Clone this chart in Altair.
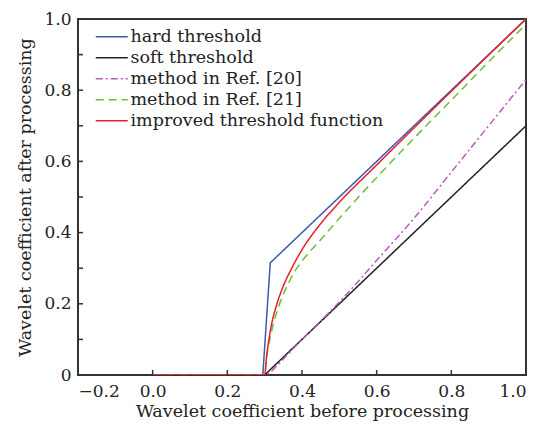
import altair as alt
import pandas as pd

# Threshold curves: input coefficient -> output coefficient
hard_x = [0.0, 0.295, 0.315, 1.0]
hard_y = [0.0, 0.0, 0.315, 1.0]

soft_x = [0.0, 0.3, 1.0]
soft_y = [0.0, 0.0, 0.7]

ref20_x = [0.0, 0.3, 0.31, 0.32, 0.34, 0.36, 0.4, 0.45, 0.5, 0.55, 0.6, 0.7, 0.8, 0.9, 1.0]
ref20_y = [0.0, 0.0, 0.004, 0.012, 0.034, 0.056, 0.1, 0.152, 0.205, 0.262, 0.322, 0.44, 0.57, 0.70, 0.83]

ref21_x = [0.0, 0.3, 0.305, 0.31, 0.32, 0.34, 0.36, 0.38, 0.4, 0.45, 0.5, 0.6, 0.7, 0.8, 0.9, 1.0]
ref21_y = [0.0, 0.0, 0.05, 0.08, 0.13, 0.2, 0.25, 0.29, 0.32, 0.38, 0.44, 0.555, 0.665, 0.772, 0.88, 0.985]

impr_x = [0.0, 0.3, 0.305, 0.31, 0.32, 0.33, 0.35, 0.37, 0.4, 0.45, 0.5, 0.6, 0.7, 0.8, 0.9, 1.0]
impr_y = [0.0, 0.0, 0.05, 0.09, 0.15, 0.19, 0.25, 0.295, 0.352, 0.425, 0.485, 0.59, 0.694, 0.797, 0.899, 1.0]

names = ["hard threshold", "soft threshold", "method in Ref. [20]",
         "method in Ref. [21]", "improved threshold function"]
colors = ["#3b5bab", "#222222", "#c058c0", "#6cbf3a", "#e8202a"]
dashes = [[1, 0], [1, 0], [7, 3, 2, 3], [8, 5], [1, 0]]

x_ticks = [-0.2, 0.0, 0.2, 0.4, 0.6, 0.8, 1.0]
y_ticks = [0.0, 0.1, 0.2, 0.3, 0.4, 0.5, 0.6, 0.7, 0.8, 0.9, 1.0]

series = [(hard_x, hard_y), (soft_x, soft_y), (ref20_x, ref20_y),
          (ref21_x, ref21_y), (impr_x, impr_y)]
rows = []
for k, (name, (xs, ys)) in enumerate(zip(names, series)):
    for i, (xv, yv) in enumerate(zip(xs, ys)):
        rows.append({"method": name, "order": k, "i": i, "x": xv, "y": yv,
                     "piecewise": k < 2})
df = pd.DataFrame(rows)

FONT = "DejaVu Serif"
FS = 17
TFS = 17.5
xscale = alt.Scale(domain=[-0.2, 1.0], nice=False, zero=False)
yscale = alt.Scale(domain=[0.0, 1.0], nice=False)

# long horizontal stroke as legend symbol (unit grid, scaled by sqrt(size)/2)
SYMBOL = "M-3,0H3"

enc = dict(
    x=alt.X("x:Q", scale=xscale,
            axis=alt.Axis(values=x_ticks, format=".1f", title="Wavelet coefficient before processing",
                          domain=False, ticks=False, grid=False, labelPadding=8, titlePadding=3,
                          labelOverlap=False)),
    y=alt.Y("y:Q", scale=yscale,
            axis=alt.Axis(values=y_ticks, labelExpr="datum.value == 0 ? '0' : format(datum.value, '.1f')",
                          title="Wavelet coefficient after processing",
                          domain=False, ticks=False, grid=False, labelPadding=7, titlePadding=9,
                          labelOverlap=False)),
    color=alt.Color("method:N", sort=names,
                    scale=alt.Scale(domain=names, range=colors),
                    legend=alt.Legend(title=None, orient="none", legendX=25, legendY=9,
                                      symbolType=SYMBOL, symbolSize=114, symbolStrokeWidth=1.5,
                                      symbolFillColor="transparent",
                                      labelFont=FONT, labelFontSize=TFS, labelColor="#222",
                                      labelLimit=0, labelOffset=10, rowPadding=2, padding=0)),
    strokeDash=alt.StrokeDash("method:N", sort=names,
                              scale=alt.Scale(domain=names, range=dashes), legend=None),
    order="i:Q",
)

# piecewise-linear rules (hard / soft) and smooth curves (the other three)
linear_lines = alt.Chart(df).transform_filter("datum.piecewise").mark_line(
    strokeWidth=1.5, clip=True).encode(**enc)
smooth_lines = alt.Chart(df).transform_filter("!datum.piecewise").mark_line(
    strokeWidth=1.5, clip=True, interpolate="monotone").encode(**enc)

# inward tick marks along the bottom and left edges
xt = pd.DataFrame({"x": x_ticks, "y0": [0.0] * len(x_ticks), "y1": [0.014] * len(x_ticks)})
yt = pd.DataFrame({"y": y_ticks, "x0": [-0.2] * len(y_ticks), "x1": [-0.2 + 0.0134] * len(y_ticks)})
xtick_marks = alt.Chart(xt).mark_rule(color="#333", strokeWidth=1.5).encode(
    x=alt.X("x:Q", scale=xscale), y=alt.Y("y0:Q", scale=yscale), y2="y1:Q")
ytick_marks = alt.Chart(yt).mark_rule(color="#333", strokeWidth=1.5).encode(
    y=alt.Y("y:Q", scale=yscale), x=alt.X("x0:Q", scale=xscale), x2="x1:Q")

chart = alt.layer(linear_lines, smooth_lines, xtick_marks, ytick_marks).properties(
    width=448, height=356,
    background="white",
    autosize=alt.AutoSizeParams(type="none"),
    padding={"left": 78, "top": 19, "right": 18, "bottom": 52},
).configure_view(
    stroke="#333", strokeWidth=2
).configure_axis(
    labelFont=FONT, labelFontSize=FS, labelColor="#222",
    titleFont=FONT, titleFontSize=TFS, titleColor="#222", titleFontWeight="normal",
)

chart.save("out.html", embed_options={"renderer": "svg", "actions": False})
